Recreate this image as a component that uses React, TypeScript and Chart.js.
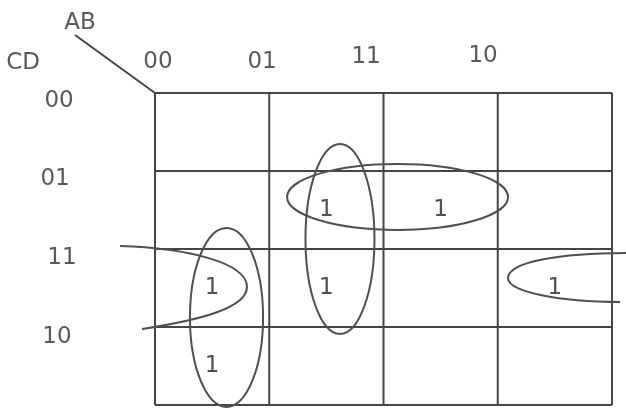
import React, { useEffect, useRef } from "react";
import { Chart, registerables } from "chart.js";

Chart.register(...registerables);

// ---- data ----
const colCodes = ["00", "01", "11", "10"]; // AB
const rowCodes = ["00", "01", "11", "10"]; // CD
const rowVar = "CD";
const colVar = "AB";
// K-map cell values, rows = CD, columns = AB
const kmapRow00 = [0, 0, 0, 0];
const kmapRow01 = [0, 1, 1, 0];
const kmapRow11 = [1, 1, 0, 1];
const kmapRow10 = [1, 0, 0, 0];
const kmap = [kmapRow00, kmapRow01, kmapRow11, kmapRow10];

// groupings (ellipses) in cell units: [cx, cy, rx, ry]
const groupA = [0.626, 2.878, 0.32, 1.147];
const groupB = [1.619, 1.872, 0.302, 1.218];
const groupC = [2.123, 1.333, 0.967, 0.423];
const groups = [groupA, groupB, groupC];
// wrap-around groupings as bezier paths in cell units
const wrapLeft = [
  [-0.306, 1.962],
  [0.263, 1.987], [0.805, 2.167], [0.805, 2.487],
  [0.805, 2.756], [0.394, 2.91], [-0.114, 3.026],
];
const wrapRight = [
  [4.123, 2.051],
  [3.545, 2.051], [3.09, 2.167], [3.09, 2.372],
  [3.09, 2.551], [3.545, 2.679], [4.07, 2.679],
];

// ---- layout (hand-placed header positions, cell units) ----
const LAYOUT = {
  colLabelX: [0.026, 0.937, 1.847, 2.871],
  colLabelY: [-0.397, -0.397, -0.462, -0.474],
  rowLabelX: [-0.84, -0.875, -0.814, -0.858],
  rowLabelY: [0.103, 1.103, 2.115, 3.128],
  colVarPos: [-0.656, -0.897],
  rowVarPos: [-1.155, -0.385],
  diagStart: [-0.7, -0.744],
};

const onePoints: { x: number; y: number }[] = [];
kmap.forEach((row, r) =>
  row.forEach((v, c) => {
    if (v === 1) onePoints.push({ x: c + 0.5, y: r + 0.5 });
  })
);

const kmapPlugin = {
  id: "kmap",
  afterDraw(chart: any) {
    const { ctx, scales } = chart;
    const xs = scales.x;
    const ys = scales.y;
    const px = (v: number) => xs.getPixelForValue(v);
    const py = (v: number) => ys.getPixelForValue(v);
    ctx.save();
    // grid
    ctx.strokeStyle = "#454545";
    ctx.lineWidth = 2;
    for (let i = 0; i <= colCodes.length; i++) {
      ctx.beginPath();
      ctx.moveTo(px(i), py(0));
      ctx.lineTo(px(i), py(rowCodes.length));
      ctx.stroke();
    }
    for (let j = 0; j <= rowCodes.length; j++) {
      ctx.beginPath();
      ctx.moveTo(px(0), py(j));
      ctx.lineTo(px(colCodes.length), py(j));
      ctx.stroke();
    }
    // diagonal
    ctx.beginPath();
    ctx.moveTo(px(LAYOUT.diagStart[0]), py(LAYOUT.diagStart[1]));
    ctx.lineTo(px(0), py(0));
    ctx.stroke();

    // text
    ctx.fillStyle = "#5a5a5a";
    ctx.font = '23px "DejaVu Sans"';
    ctx.textAlign = "center";
    ctx.textBaseline = "middle";
    colCodes.forEach((t, i) =>
      ctx.fillText(t, px(LAYOUT.colLabelX[i]), py(LAYOUT.colLabelY[i]))
    );
    rowCodes.forEach((t, i) =>
      ctx.fillText(t, px(LAYOUT.rowLabelX[i]), py(LAYOUT.rowLabelY[i]))
    );
    ctx.fillText(colVar, px(LAYOUT.colVarPos[0]), py(LAYOUT.colVarPos[1]));
    ctx.fillText(rowVar, px(LAYOUT.rowVarPos[0]), py(LAYOUT.rowVarPos[1]));

    // ones
    const meta = chart.getDatasetMeta(0);
    ctx.fillStyle = "#505050";
    meta.data.forEach((el: any) => {
      ctx.fillText("1", el.x, el.y);
    });

    // groups
    ctx.strokeStyle = "#505050";
    ctx.lineWidth = 2;
    groups.forEach(([cx, cy, rx, ry]) => {
      const x = px(cx);
      const y = py(cy);
      const rxp = Math.abs(px(cx + rx) - x);
      const ryp = Math.abs(py(cy + ry) - y);
      ctx.beginPath();
      ctx.ellipse(x, y, rxp, ryp, 0, 0, Math.PI * 2);
      ctx.stroke();
    });
    [wrapLeft, wrapRight].forEach((p) => {
      ctx.beginPath();
      ctx.moveTo(px(p[0][0]), py(p[0][1]));
      for (let k = 1; k + 2 < p.length; k += 3) {
        ctx.bezierCurveTo(
          px(p[k][0]), py(p[k][1]),
          px(p[k + 1][0]), py(p[k + 1][1]),
          px(p[k + 2][0]), py(p[k + 2][1])
        );
      }
      ctx.stroke();
    });
    ctx.restore();
  },
};

export default function App() {
  const ref = useRef<HTMLCanvasElement | null>(null);
  useEffect(() => {
    if (!ref.current) return;
    const chart = new Chart(ref.current, {
      type: "scatter",
      data: {
        datasets: [
          {
            data: onePoints,
            pointRadius: 0,
            pointHoverRadius: 0,
            showLine: false,
          },
        ],
      },
      options: {
        animation: false,
        responsive: true,
        maintainAspectRatio: false,
        events: [],
        layout: { padding: { left: 155, top: 93, right: 14, bottom: 4 } },
        plugins: { legend: { display: false }, tooltip: { enabled: false } },
        scales: {
          x: { type: "linear", min: 0, max: 4, display: false },
          y: { type: "linear", min: 0, max: 4, reverse: true, display: false },
        },
      },
      plugins: [kmapPlugin],
    });
    return () => chart.destroy();
  }, []);
  return (
    <div
      style={{
        position: "fixed",
        left: 0,
        top: 0,
        width: 626,
        height: 409,
        background: "#ffffff",
      }}
    >
      <canvas ref={ref} />
    </div>
  );
}
